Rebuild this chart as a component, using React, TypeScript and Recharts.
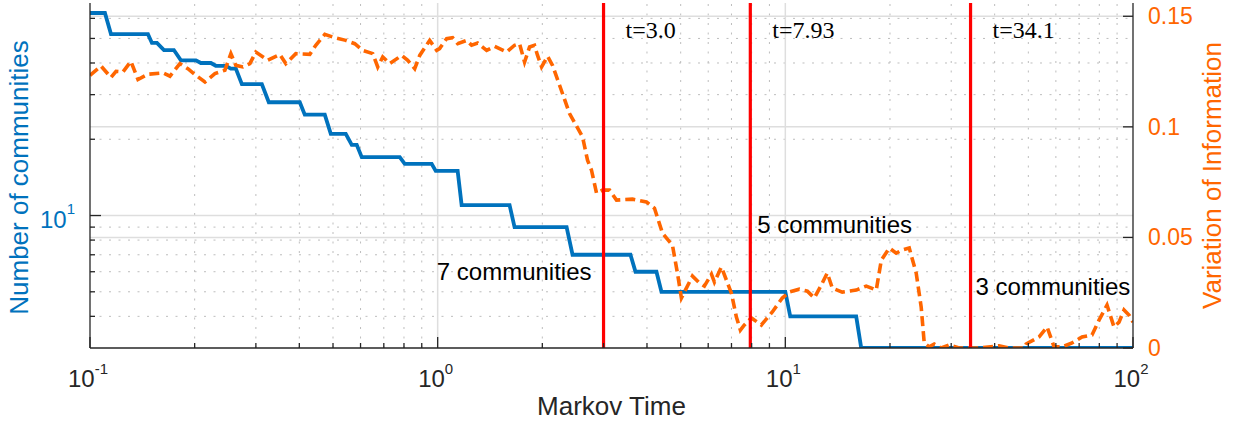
import React from "react";
import { ComposedChart, Line, XAxis, YAxis, ReferenceLine } from "recharts";

// number of communities (step corners)
const blueTimes = [
  0.1, 0.1104, 0.1149, 0.1468, 0.1507, 0.1558, 0.1632, 0.1743, 0.1826, 0.2017,
  0.2084, 0.2227, 0.2301, 0.2459, 0.2541, 0.2627, 0.2734, 0.3121, 0.3268, 0.4012,
  0.4147, 0.4735, 0.4927, 0.5441, 0.5661, 0.5851, 0.6048, 0.778, 0.8041, 0.9612,
  0.9869, 1.1416, 1.172, 1.61, 1.664, 2.349, 2.443, 3.586, 3.707, 4.259,
  4.402, 10.0, 10.33, 15.99, 16.53, 100,
];
const blueCounts = [
  63, 63, 52, 52, 48, 48, 45, 45, 41, 41, 40, 40, 39, 39, 38, 38, 33, 33, 28, 28,
  25, 25, 21, 21, 19, 19, 17, 17, 16, 16, 15, 15, 11, 11, 9, 9, 7, 7, 6, 6,
  5, 5, 4, 4, 3, 3,
];

// variation of information
const viTimes = [
  0.1, 0.1076, 0.1149, 0.1188, 0.1244, 0.1311, 0.1374, 0.1468, 0.1621, 0.1698,
  0.1814, 0.1912, 0.2017, 0.2141, 0.2287, 0.2443, 0.2542, 0.2627, 0.2752, 0.2883,
  0.2999, 0.3247, 0.3516, 0.3658, 0.3908, 0.4288, 0.4461, 0.4735, 0.5058, 0.5441,
  0.5774, 0.6088, 0.6505, 0.6724, 0.695, 0.728, 0.7882, 0.8201, 0.8589, 0.888,
  0.9484, 0.9934, 1.013, 1.061, 1.104, 1.142, 1.212, 1.252, 1.303, 1.383,
  1.458, 1.579, 1.664, 1.72, 1.778, 1.838, 1.899, 1.938, 1.99, 2.071,
  2.14, 2.242, 2.395, 2.611, 2.698, 2.77, 2.864, 2.979, 3.121, 3.269,
  3.634, 3.986, 4.204, 4.433, 4.735, 4.894, 5.024, 5.406, 5.661, 5.851,
  6.13, 6.252, 6.549, 6.769, 6.996, 7.231, 7.425, 7.624, 7.985, 8.531,
  9.175, 9.8, 10.27, 10.97, 11.57, 12.12, 12.69, 13.2, 13.65, 14.58,
  16.0, 17.09, 18.26, 18.88, 19.91, 20.84, 21.69, 22.72, 23.79, 24.59,
  25.09, 25.93, 26.81, 28.08, 29.6, 31.62, 36.1, 41.2, 44.03, 48.63,
  49.27, 53.7, 56.61, 59.29, 62.52, 66.79, 71.35, 76.23, 79.84, 84.2,
  88.19, 91.16, 94.23, 97.38, 100,
];
const viValues = [
  0.1233, 0.1275, 0.1223, 0.1251, 0.1248, 0.1296, 0.1214, 0.1238, 0.1244, 0.1229,
  0.1286, 0.1263, 0.1233, 0.1203, 0.1241, 0.1256, 0.1331, 0.1278, 0.1271, 0.1286,
  0.1338, 0.1301, 0.1327, 0.1286, 0.1331, 0.1328, 0.1369, 0.1418, 0.1403, 0.1391,
  0.1376, 0.1346, 0.1331, 0.1271, 0.1316, 0.1286, 0.1323, 0.1301, 0.1263, 0.1323,
  0.1391, 0.1346, 0.1354, 0.1399, 0.1403, 0.1376, 0.1391, 0.1369, 0.1379, 0.1346,
  0.1364, 0.1338, 0.1369, 0.1376, 0.1293, 0.1361, 0.1369, 0.1323, 0.1271, 0.1319,
  0.1278, 0.1188, 0.106, 0.0954, 0.0849, 0.0804, 0.07, 0.0714, 0.0714, 0.0669,
  0.0673, 0.066, 0.0632, 0.0519, 0.0465, 0.0339, 0.0226, 0.0325, 0.0294, 0.028,
  0.0334, 0.0298, 0.0366, 0.0307, 0.0248, 0.014, 0.0081, 0.0104, 0.0136, 0.0104,
  0.0163, 0.0226, 0.0253, 0.0266, 0.0257, 0.0226, 0.0285, 0.0339, 0.0271, 0.0253,
  0.0262, 0.028, 0.0262, 0.0397, 0.0452, 0.0429, 0.0443, 0.0452, 0.0339, 0.0185,
  0.0023, 0.0005, 0.0018, 0, 0.0014, 0, 0, 0.001, 0, 0,
  0.0018, 0.005, 0.0095, 0.0005, 0.0005, 0.0023, 0.005, 0.0059, 0.0126, 0.0194,
  0.0095, 0.0117, 0.0172, 0.0149, 0.0117,
];

const xMajorTicks = [0.1, 1, 10, 100];
const xMinorTicks = [
  0.2, 0.3, 0.4, 0.5, 0.6, 0.7, 0.8, 0.9, 2, 3, 4, 5, 6, 7, 8, 9,
  20, 30, 40, 50, 60, 70, 80, 90,
];
const leftMajorTicks = [10];
const leftMinorTicks = [4, 5, 6, 7, 8, 9, 20, 30, 40, 50, 60];
const rightTicks = [0, 0.05, 0.1, 0.15];

const cutTimes = [3.0, 7.93, 34.1];
const cutLabels = ["t=3.0", "t=7.93", "t=34.1"];
const partitionLabels = ["7 communities", "5 communities", "3 communities"];

const BLUE = "#0072BD";
const ORANGE = "#FF6600";
const AXIS = "#262626";
const GRID = "#dedede";
const DOTS = "#bdbdbd";
const SANS = "'Liberation Sans', Arial, Helvetica, sans-serif";
const SERIF = "'Liberation Serif', 'Times New Roman', serif";

const countData = blueTimes.map((t, i) => ({ t, n: blueCounts[i] }));
const viData = viTimes.map((t, i) => ({ t, vi: viValues[i] }));

function BottomTick(props: any) {
  const { x, y, payload } = props;
  const major = xMajorTicks.includes(payload.value);
  return (
    <g>
      <line x1={x} x2={x} y1={y} y2={y - (major ? 11 : 5)} stroke={AXIS} strokeWidth={1.3} />
      {major && (
        <text x={x - 2} y={y + 39} textAnchor="middle" fontFamily={SANS} fontSize={24} fill={AXIS}>
          10
          <tspan dy={-13} fontSize={15}>
            {Math.round(Math.log10(payload.value))}
          </tspan>
        </text>
      )}
    </g>
  );
}

function TopTick(props: any) {
  const { x, y, payload } = props;
  const major = xMajorTicks.includes(payload.value);
  return <line x1={x} x2={x} y1={y} y2={y + (major ? 11 : 5)} stroke={AXIS} strokeWidth={1.3} />;
}

function LeftTick(props: any) {
  const { x, y, payload } = props;
  const major = leftMajorTicks.includes(payload.value);
  return (
    <g>
      <line x1={x} x2={x + (major ? 11 : 5)} y1={y} y2={y} stroke={AXIS} strokeWidth={1.3} />
      {major && (
        <text x={x - 15} y={y + 12} textAnchor="end" fontFamily={SANS} fontSize={24} fill={BLUE}>
          10
          <tspan dy={-14} fontSize={15}>
            {Math.round(Math.log10(payload.value))}
          </tspan>
        </text>
      )}
    </g>
  );
}

function RightTick(props: any) {
  const { x, y, payload } = props;
  return (
    <g>
      <line x1={x} x2={x - 10} y1={y} y2={y} stroke={AXIS} strokeWidth={1.3} />
      <text x={x + 15} y={y + 8} fontFamily={SANS} fontSize={23} fill={ORANGE}>
        {payload.value}
      </text>
    </g>
  );
}

export default function App() {
  return (
    <div style={{ position: "absolute", left: 0, top: 0, width: 1234, height: 424, background: "#fff" }}>
      <ComposedChart width={1234} height={424} margin={{ top: 3, right: 0, bottom: 0, left: 0 }}>
        <XAxis
          xAxisId="b"
          type="number"
          dataKey="t"
          scale="log"
          domain={[0.1, 100]}
          allowDataOverflow
          ticks={[...xMajorTicks, ...xMinorTicks]}
          interval={0}
          tickSize={0}
          tickMargin={0}
          height={76}
          tickLine={false}
          axisLine={{ stroke: AXIS, strokeWidth: 1.3 }}
          tick={(p: any) => <BottomTick {...p} />}
          label={(p: any) => {
            const vb = p.viewBox;
            return (
              <text x={vb.x + vb.width / 2} y={vb.y + 67} textAnchor="middle" fontFamily={SANS} fontSize={26} fill={AXIS}>
                Markov Time
              </text>
            );
          }}
        />
        <XAxis
          xAxisId="top"
          orientation="top"
          type="number"
          dataKey="t"
          scale="log"
          domain={[0.1, 100]}
          allowDataOverflow
          ticks={[...xMajorTicks, ...xMinorTicks]}
          interval={0}
          tickSize={0}
          tickMargin={0}
          height={0}
          tickLine={false}
          axisLine={{ stroke: AXIS, strokeWidth: 1.3 }}
          tick={(p: any) => <TopTick {...p} />}
        />
        <YAxis
          yAxisId="n"
          type="number"
          scale="log"
          domain={[3, 69]}
          allowDataOverflow
          ticks={[...leftMajorTicks, ...leftMinorTicks]}
          interval={0}
          tickSize={0}
          tickMargin={0}
          width={90}
          tickLine={false}
          axisLine={{ stroke: AXIS, strokeWidth: 1.3 }}
          tick={(p: any) => <LeftTick {...p} />}
          label={(p: any) => {
            const vb = p.viewBox;
            const cx = vb.x + 28;
            const cy = vb.y + vb.height / 2 + 2;
            return (
              <text x={cx} y={cy} transform={`rotate(-90 ${cx} ${cy})`} textAnchor="middle" fontFamily={SANS} fontSize={26} fill={BLUE}>
                Number of communities
              </text>
            );
          }}
        />
        <YAxis
          yAxisId="vi"
          orientation="right"
          type="number"
          domain={[0, 0.156]}
          allowDataOverflow
          ticks={rightTicks}
          interval={0}
          tickSize={0}
          tickMargin={0}
          width={101}
          tickLine={false}
          axisLine={{ stroke: AXIS, strokeWidth: 1.3 }}
          tick={(p: any) => <RightTick {...p} />}
          label={(p: any) => {
            const vb = p.viewBox;
            const cx = vb.x + 88;
            const cy = vb.y + vb.height / 2;
            return (
              <text x={cx} y={cy} transform={`rotate(-90 ${cx} ${cy})`} textAnchor="middle" fontFamily={SANS} fontSize={26} fill={ORANGE}>
                Variation of Information
              </text>
            );
          }}
        />

        {xMinorTicks.map((v) => (
          <ReferenceLine key={`xm${v}`} xAxisId="b" yAxisId="n" x={v} stroke={DOTS} strokeWidth={1} strokeDasharray="2 7.5" />
        ))}
        {leftMinorTicks.map((v) => (
          <ReferenceLine key={`ym${v}`} xAxisId="b" yAxisId="n" y={v} stroke={DOTS} strokeWidth={1} strokeDasharray="2 7.5" />
        ))}
        {xMajorTicks.slice(1, 3).map((v) => (
          <ReferenceLine key={`xM${v}`} xAxisId="b" yAxisId="n" x={v} stroke={GRID} strokeWidth={1.5} />
        ))}
        {leftMajorTicks.map((v) => (
          <ReferenceLine key={`yM${v}`} xAxisId="b" yAxisId="n" y={v} stroke={GRID} strokeWidth={1.5} />
        ))}
        {rightTicks.slice(1).map((v) => (
          <ReferenceLine key={`yr${v}`} xAxisId="b" yAxisId="vi" y={v} stroke={GRID} strokeWidth={1.5} />
        ))}

        <Line
          xAxisId="b"
          yAxisId="n"
          data={countData}
          dataKey="n"
          type="linear"
          stroke={BLUE}
          strokeWidth={3.8}
          dot={false}
          activeDot={false}
          isAnimationActive={false}
        />
        <Line
          xAxisId="b"
          yAxisId="vi"
          data={viData}
          dataKey="vi"
          type="linear"
          stroke={ORANGE}
          strokeWidth={3.6}
          strokeDasharray="10 5"
          dot={false}
          activeDot={false}
          isAnimationActive={false}
        />

        {cutTimes.map((t, i) => (
          <ReferenceLine
            key={`cut${t}`}
            xAxisId="b"
            yAxisId="n"
            x={t}
            stroke="#FF0000"
            strokeWidth={3.2}
            label={(p: any) => {
              const vb = p.viewBox;
              return (
                <g>
                  <text x={vb.x + 22} y={vb.y + 35} fontFamily={SERIF} fontSize={24} fill="#000">
                    {cutLabels[i]}
                  </text>
                  {i === 0 ? (
                    <text x={vb.x - 12} y={vb.y + 277} textAnchor="end" fontFamily={SANS} fontSize={24} fill="#000">
                      {partitionLabels[i]}
                    </text>
                  ) : (
                    <text x={vb.x + (i === 1 ? 7 : 5)} y={vb.y + (i === 1 ? 230 : 292)} fontFamily={SANS} fontSize={24} fill="#000">
                      {partitionLabels[i]}
                    </text>
                  )}
                </g>
              );
            }}
          />
        ))}
      </ComposedChart>
    </div>
  );
}
